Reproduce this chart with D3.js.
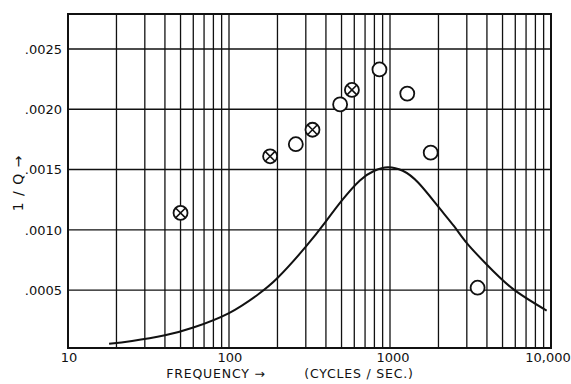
<!DOCTYPE html>
<html>
<head>
<meta charset="utf-8">
<script src="https://cdn.jsdelivr.net/npm/d3@7"></script>
<style>
  html, body { margin: 0; padding: 0; background: #fff; }
  svg { display: block; }
  text { font-family: "DejaVu Sans", sans-serif; fill: #111; }
</style>
</head>
<body>
<div id="chart"></div>
<script>
// measured points: crossed circles and open circles (frequency, 1/Q)
const crossedFreq = [50, 180, 330, 580];
const crossedVal = [0.00114, 0.00161, 0.00183, 0.00216];
const openFreq = [260, 490, 860, 1280, 1790, 3500];
const openVal = [0.00171, 0.00204, 0.00233, 0.00213, 0.00164, 0.00052];

// theoretical curve
const curveFreq = [18, 25, 40, 60, 100, 150, 200, 300, 400, 500, 650, 800, 970, 1200, 1500, 2000, 2500, 3000, 4000, 5800, 9400];
const curveVal = [0.000055, 0.000078, 0.000125, 0.00019, 0.00031, 0.00046, 0.0006, 0.00086, 0.00107, 0.00124, 0.00141, 0.00149, 0.00152, 0.00149, 0.00139, 0.00119, 0.00103, 0.00089, 0.00071, 0.00051, 0.00033];

const xTicks = [10, 100, 1000, 10000];
const xTickLabels = ["10", "100", "1000", "10,000"];
const yTicks = [0.0005, 0.0010, 0.0015, 0.0020, 0.0025];
const yTickLabels = [".0005", ".0010", ".0015", ".0020", ".0025"];

const width = 571, height = 384;
const ink = "#111";

const svg = d3.select("#chart").append("svg")
  .attr("width", width)
  .attr("height", height);

const x = d3.scaleLog().domain([10, 10000]).range([68, 551]);
const y = d3.scaleLinear().domain([0.00002, 0.00279]).range([348, 14]);

const [x0, x1] = x.range();
const [y0, y1] = y.range();

// grid: vertical lines at 2..9 of each decade
const minorX = [];
[10, 100, 1000].forEach(d => { for (let k = 2; k <= 9; k++) minorX.push(d * k); });
minorX.push(100, 1000);

const grid = svg.append("g");
grid.selectAll("line.v")
  .data(minorX)
  .enter()
  .append("line")
  .attr("class", "v")
  .attr("x1", d => x(d)).attr("x2", d => x(d))
  .attr("y1", y1).attr("y2", y0)
  .attr("stroke", ink)
  .attr("stroke-width", 1.3);

grid.selectAll("line.h")
  .data(yTicks)
  .enter()
  .append("line")
  .attr("class", "h")
  .attr("x1", x0).attr("x2", x1)
  .attr("y1", d => y(d)).attr("y2", d => y(d))
  .attr("stroke", ink)
  .attr("stroke-width", 1.4);

// frame
svg.append("rect")
  .attr("x", x0).attr("y", y1)
  .attr("width", x1 - x0).attr("height", y0 - y1)
  .attr("fill", "none")
  .attr("stroke", ink)
  .attr("stroke-width", 2);

// tick labels
svg.append("g").selectAll("text")
  .data(yTicks)
  .enter()
  .append("text")
  .attr("x", 62)
  .attr("y", d => y(d))
  .attr("dy", "0.36em")
  .attr("text-anchor", "end")
  .attr("font-size", "13px")
  .text((d, i) => yTickLabels[i]);

svg.append("g").selectAll("text")
  .data(xTicks)
  .enter()
  .append("text")
  .attr("x", (d, i) => x(d) + (i === 2 ? 3 : i === 3 ? -3 : 1))
  .attr("y", 362)
  .attr("text-anchor", "middle")
  .attr("font-size", "13px")
  .text((d, i) => xTickLabels[i]);

// axis titles
svg.append("text")
  .attr("x", 216).attr("y", 378)
  .attr("text-anchor", "middle")
  .attr("font-size", "12.5px")
  .attr("letter-spacing", "0.8px")
  .text("FREQUENCY \u2192");

svg.append("text")
  .attr("x", 359).attr("y", 378)
  .attr("text-anchor", "middle")
  .attr("font-size", "12.5px")
  .attr("letter-spacing", "0.8px")
  .text("(CYCLES / SEC.)");

svg.append("text")
  .attr("transform", "translate(23,183) rotate(-90)")
  .attr("text-anchor", "middle")
  .attr("font-size", "14px")
  .attr("letter-spacing", "1px")
  .text("1 / Q \u2192");

// curve
const line = d3.line()
  .x(d => x(d[0]))
  .y(d => y(d[1]))
  .curve(d3.curveNatural);

svg.append("path")
  .datum(curveFreq.map((f, i) => [f, curveVal[i]]))
  .attr("d", line)
  .attr("fill", "none")
  .attr("stroke", ink)
  .attr("stroke-width", 2);

// markers
const r = 7;
const pts = svg.append("g");

pts.selectAll("circle.open")
  .data(openFreq.map((f, i) => [f, openVal[i]]))
  .enter()
  .append("circle")
  .attr("class", "open")
  .attr("cx", d => x(d[0])).attr("cy", d => y(d[1]))
  .attr("r", r)
  .attr("fill", "#fff")
  .attr("stroke", ink)
  .attr("stroke-width", 1.8);

const crossed = pts.selectAll("g.crossed")
  .data(crossedFreq.map((f, i) => [f, crossedVal[i]]))
  .enter()
  .append("g")
  .attr("class", "crossed")
  .attr("transform", d => `translate(${x(d[0])},${y(d[1])})`);

crossed.append("circle")
  .attr("r", r)
  .attr("fill", "#fff")
  .attr("stroke", ink)
  .attr("stroke-width", 1.8);

const k = r * Math.SQRT1_2;
crossed.append("path")
  .attr("d", `M${-k},${-k}L${k},${k}M${-k},${k}L${k},${-k}`)
  .attr("stroke", ink)
  .attr("stroke-width", 1.6);
</script>
</body>
</html>
